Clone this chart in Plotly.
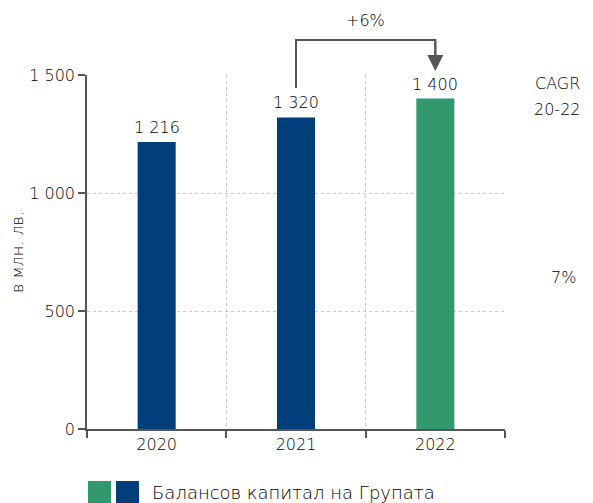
import plotly.graph_objects as go

# Data
years = ["2020", "2021", "2022"]
equity = [1216, 1320, 1400]
bar_colors = ["#013f7b", "#013f7b", "#32996f"]
y_ticks = [0, 500, 1000, 1500]
series_name = "Балансов капитал на Групата"
growth_label = "+6%"
cagr_title = ["CAGR", "20-22"]
cagr_value = "7%"
y_title = "в млн. лв."

FONT = "DejaVu Sans"
WEIGHT = 200
TXT = "#000000"
AX = "#555555"

W, H = 593, 503
L, R, T, B = 87, 88, 75, 74
PW, PH = W - L - R, H - T - B


def px(x):
    return (x - L) / PW


def py(y):
    return (H - B - y) / PH


def fnt(size):
    return dict(family=FONT, size=size, color=TXT, weight=WEIGHT)


def label(x, y, text, size=16, xref="paper", yref="paper", **kw):
    opts = dict(xanchor="center", yanchor="middle")
    opts.update(kw)
    fig.add_annotation(x=x, y=y, xref=xref, yref=yref, text=text,
                       showarrow=False, font=fnt(size), **opts)


fig = go.Figure()
fig.add_trace(go.Bar(
    x=years, y=equity, marker=dict(color=bar_colors, line=dict(width=0)),
    width=0.273, showlegend=False, hoverinfo="x+y",
))

# value labels above bars
for i, v in enumerate(equity):
    label(i, v, f"{v:,}".replace(",", " "), xref="x", yref="y",
          yanchor="bottom", yshift=3)

# growth bracket 2021 -> 2022
fig.add_shape(type="path", xref="x", yref="paper",
              path=f"M 1,{py(88)} L 1,{py(40)} L 2,{py(40)} L 2,{py(60)}",
              line=dict(color=AX, width=2))
fig.add_annotation(x=2, y=py(71), xref="x", yref="paper", ax=0, ay=-31,
                   xanchor="center", yanchor="middle",
                   showarrow=True, arrowhead=2, arrowsize=1.6, arrowwidth=2,
                   arrowcolor=AX, text="")
label(1.5, py(21), growth_label, xref="x")

# CAGR column
label(px(557), py(83), cagr_title[0])
label(px(557), py(109), cagr_title[1])
label(px(563), py(277), cagr_value)

# y axis title
label(px(17), 0.5, y_title, size=16, textangle=-90)

# legend swatches
fig.add_shape(type="rect", xref="paper", yref="paper", x0=px(88), x1=px(111),
              y0=py(481), y1=py(504), fillcolor=bar_colors[2], line=dict(width=0))
fig.add_shape(type="rect", xref="paper", yref="paper", x0=px(116), x1=px(139),
              y0=py(481), y1=py(504), fillcolor=bar_colors[0], line=dict(width=0))
label(px(150), py(492), series_name, size=18, xanchor="left")

fig.update_layout(
    width=W, height=H, margin=dict(l=L, r=R, t=T, b=B, pad=0),
    plot_bgcolor="white", paper_bgcolor="white",
    separators=". ", bargap=0.727,
    font=fnt(16),
)
fig.update_xaxes(
    type="category", range=[-0.5, 2.5], tickson="boundaries",
    showgrid=True, gridcolor="#c8c8c8", griddash="dot", gridwidth=1,
    showline=True, linecolor=AX, linewidth=1.5,
    ticks="outside", ticklen=7, tickcolor=AX, tickwidth=1.5,
    tickfont=fnt(16), zeroline=False,
)
fig.update_yaxes(
    range=[0, 1500], tickvals=y_ticks, tickformat=",d",
    showgrid=True, gridcolor="#c8c8c8", griddash="dot", gridwidth=1,
    showline=True, linecolor=AX, linewidth=1.5,
    ticks="outside", ticklen=7, tickcolor=AX, tickwidth=1.5,
    tickfont=fnt(16), zeroline=False,
)

fig.write_html("out.html")
